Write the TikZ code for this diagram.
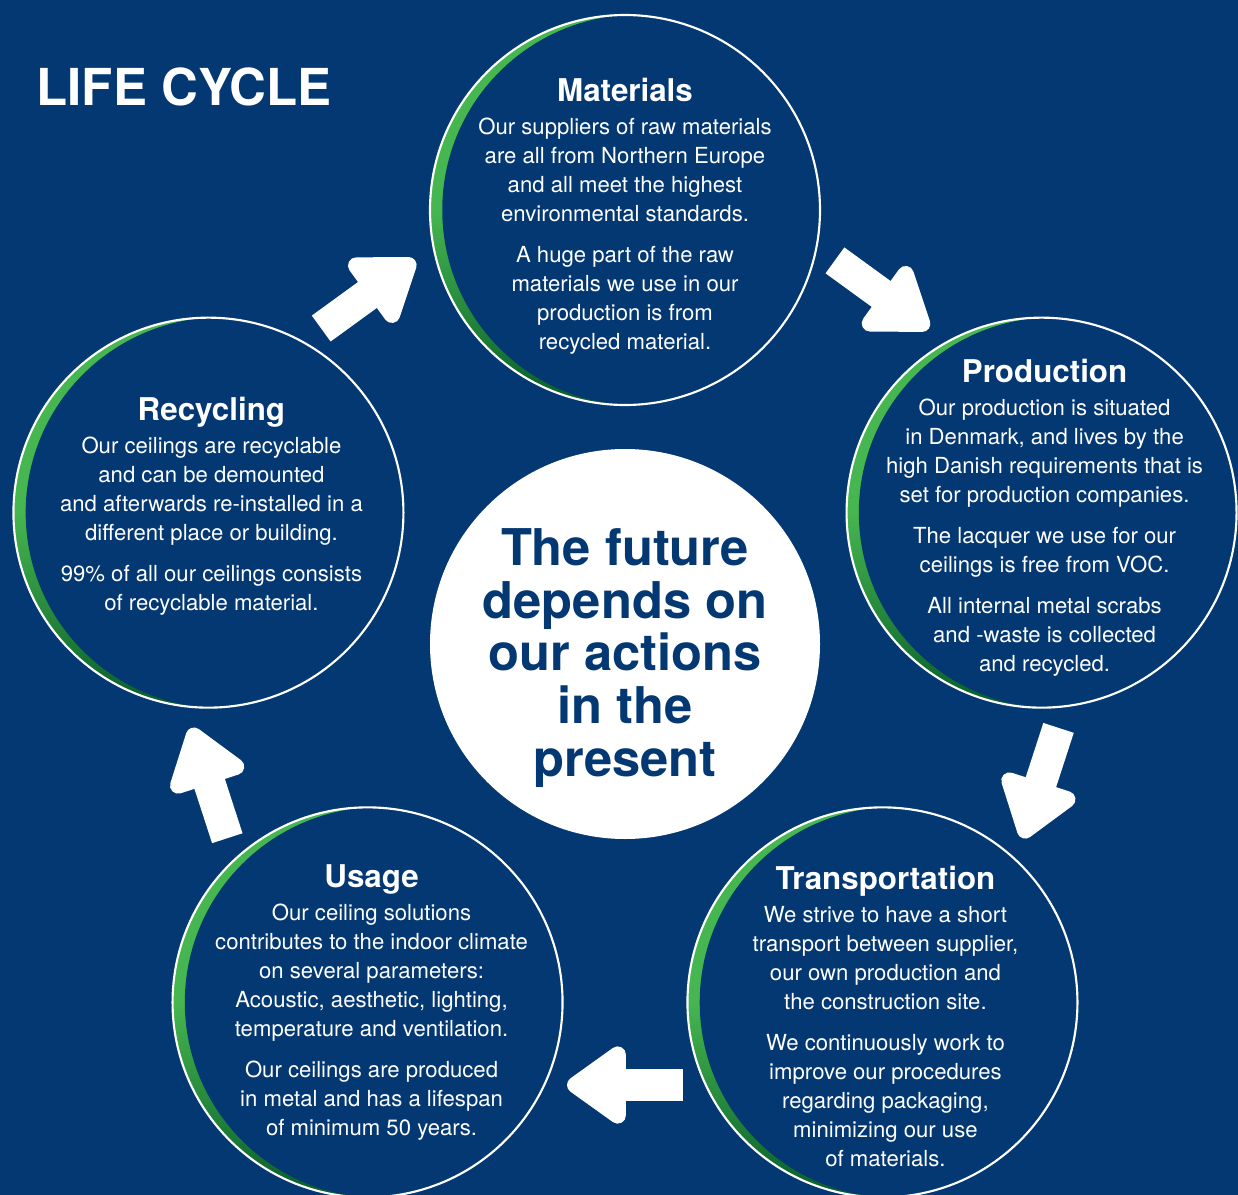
\documentclass[tikz,border=0pt]{standalone}
\usepackage{fontspec}
\setmainfont{TeX Gyre Heros}
\usetikzlibrary{calc,arrows.meta}

\definecolor{lcblue}{RGB}{3,56,114}
\definecolor{lcgreen}{RGB}{70,182,80}
\definecolor{lcmidgreen}{RGB}{22,140,60}
\definecolor{lcdarkgreen}{RGB}{0,82,36}

\pgfdeclareverticalshading{stagegreen}{100bp}{color(0bp)=(lcmidgreen); color(22bp)=(lcdarkgreen); color(50bp)=(lcgreen); color(100bp)=(lcgreen)}

\newcommand{\stagehead}[1]{{\fontsize{23.5pt}{23.5pt}\selectfont\bfseries #1}}

\tikzset{
    stage/.style={circle, minimum size=292.5pt, inner sep=0pt,
        draw=white, line width=1.6pt, fill=lcblue,
        path picture={
            \shade[shading=stagegreen] (path picture bounding box.south west) rectangle (path picture bounding box.north east);
            \fill[lcblue] ([xshift=9.5pt]path picture bounding box.center) circle (146.56pt);
        }},
    stagetext/.style={text=white, align=center, inner sep=0pt,
        font=\fontsize{16.6pt}{21.75pt}\selectfont},
    core/.style={circle, minimum size=292.5pt, inner sep=0pt, fill=white},
    coretext/.style={text=lcblue, align=center, inner sep=0pt,
        font=\fontsize{38pt}{39.6pt}\selectfont\bfseries},
    flow/.style={white, line width=24pt,
        -{Triangle[width=66pt, length=49pt, round, line width=14pt]}}
}

\begin{document}
\begin{tikzpicture}[x=0.75pt, y=0.75pt]
    \fill[lcblue] (0,0) rectangle (1238,-1195);
    \useasboundingbox (0,0) rectangle (1238,-1195);

    \coordinate (ring) at (625,-648);

    \node[anchor=base west, text=white, font=\fontsize{38.2pt}{38.2pt}\selectfont\bfseries]
        (title) at (32,-106) {LIFE CYCLE};

    \node[core] (future) at (625,-644) {};
    \node[coretext] (future-text) at ($(future)+(0,-14)$) {The future\\depends on\\our actions\\in the\\present};

    \node[stage] (materials) at ($(ring)+(90:438)$) {};
    \node[stage] (production) at ($(ring)+(18:438)$) {};
    \node[stage] (transport) at ($(ring)+(-54:438)$) {};
    \node[stage] (usage) at ($(ring)+(-126:438)$) {};
    \node[stage] (recycling) at ($(ring)+(162:438)$) {};

    \node[stagetext] (materials-text) at ($(materials)+(0,-6)$) {\stagehead{Materials}\\[3pt]
        Our suppliers of raw materials\\are all from Northern Europe\\and all meet the highest\\environmental standards.\\[9pt]
        A huge part of the raw\\materials we use in our\\production is from\\recycled material.};

    \node[stagetext] (production-text) at ($(production)+(3,-5)$) {\stagehead{Production}\\[3pt]
        Our production is situated\\in Denmark, and lives by the\\high Danish requirements that is\\set for production companies.\\[9pt]
        The lacquer we use for our\\ceilings is free from VOC.\\[9pt]
        All internal metal scrabs\\and -waste is collected\\and recycled.};

    \node[stagetext] (transport-text) at ($(transport)+(3,-14)$) {\stagehead{Transportation}\\[3pt]
        We strive to have a short\\transport between supplier,\\our own production and\\the construction site.\\[9pt]
        We continuously work to\\improve our procedures\\regarding packaging,\\minimizing our use\\of materials.};

    \node[stagetext] (usage-text) at ($(usage)+(4,0)$) {\stagehead{Usage}\\[3pt]
        Our ceiling solutions\\contributes to the indoor climate\\on several parameters:\\Acoustic, aesthetic, lighting,\\temperature and ventilation.\\[9pt]
        Our ceilings are produced\\in metal and has a lifespan\\of minimum 50 years.};

    \node[stagetext] (recycling-text) at ($(recycling)+(3,6)$) {\stagehead{Recycling}\\[3pt]
        Our ceilings are recyclable\\and can be demounted\\and afterwards re-installed in a\\different place or building.\\[9pt]
        99\% of all our ceilings consists\\of recyclable material.};

    % arrows between the stages, clockwise round the ring
    \foreach \ang [count=\i] in {54,-18,-90,-162,126} {
        \coordinate (tail\i) at ($(ring)+(\ang:437)+(\ang+90:58)$);
        \coordinate (tip\i) at ($(ring)+(\ang:437)+(\ang-90:58)$);
        \draw[flow] (tail\i) -- (tip\i);
    }
\end{tikzpicture}
\end{document}
